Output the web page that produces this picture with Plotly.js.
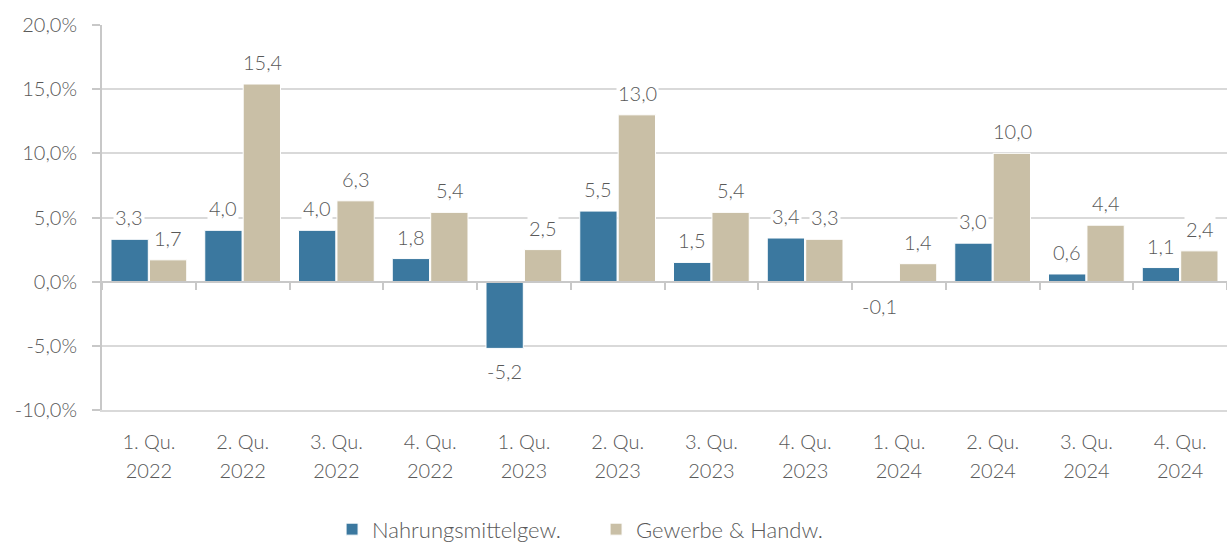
<!DOCTYPE html>
<html>
<head>
<meta charset="utf-8">
<script src="https://cdn.plot.ly/plotly-3.0.1.min.js"></script>
<style>html,body{margin:0;padding:0;background:#fff;}#chart{width:1227px;height:545px;}</style>
</head>
<body>
<div id="chart"></div>
<script>
const quarters = ["1. Qu.","2. Qu.","3. Qu.","4. Qu.","1. Qu.","2. Qu.","3. Qu.","4. Qu.","1. Qu.","2. Qu.","3. Qu.","4. Qu."];
const years = ["2022","2022","2022","2022","2023","2023","2023","2023","2024","2024","2024","2024"];
const categories = quarters.map((q, i) => q + " " + years[i]);
const nahrung = [3.3, 4.0, 4.0, 1.8, -5.2, 5.5, 1.5, 3.4, -0.1, 3.0, 0.6, 1.1];
const gewerbe = [1.7, 15.4, 6.3, 5.4, 2.5, 13.0, 5.4, 3.3, 1.4, 10.0, 4.4, 2.4];
const seriesNames = ["Nahrungsmittelgew.", "Gewerbe & Handw."];
const yTickVals = [-10, -5, 0, 5, 10, 15, 20];

const FONT = "Lato, 'Open Sans', sans-serif";
const GREY = "#595959";
const W = 300;
const fmt = v => v.toFixed(1).replace('.', ',');
const yTickText = yTickVals.map(v => fmt(v) + '%');

const traces = [
  {type: 'bar', name: seriesNames[0], x: categories, y: nahrung,
   marker: {color: '#3b789f', line: {color: '#ffffff', width: 1}}, hoverinfo: 'skip'},
  {type: 'bar', name: seriesNames[1], x: categories, y: gewerbe,
   marker: {color: '#c9bfa6', line: {color: '#ffffff', width: 1}}, hoverinfo: 'skip'},
  {type: 'scatter', mode: 'markers', x: categories, y: nahrung, xaxis: 'x2', yaxis: 'y',
   marker: {opacity: 0}, showlegend: false, hoverinfo: 'skip'},
  {type: 'scatter', mode: 'markers', x: categories, y: nahrung, xaxis: 'x3', yaxis: 'y',
   marker: {opacity: 0}, showlegend: false, hoverinfo: 'skip'}
];

const annotations = [];
[nahrung, gewerbe].forEach((arr, s) => {
  arr.forEach((v, i) => {
    annotations.push({
      x: categories[i], y: v, xref: 'x', yref: 'y',
      text: fmt(v), showarrow: false,
      xshift: s === 0 ? -19.5 : 19.5,
      yanchor: v >= 0 ? 'bottom' : 'top',
      yshift: v >= 0 ? 8 : -9,
      bgcolor: '#ffffff', borderpad: 1,
      font: {family: FONT, size: 20, color: GREY, weight: W}
    });
  });
});

const layout = {
  width: 1227, height: 545,
  margin: {l: 102, r: 0, t: 25, b: 135, autoexpand: false},
  paper_bgcolor: '#fff', plot_bgcolor: '#fff',
  separators: ',.',
  barmode: 'group', bargap: 0.18, bargroupgap: 0.03,
  font: {family: FONT, size: 20, color: GREY, weight: W},
  xaxis: {
    type: 'category', categoryarray: categories, range: [-0.5, 11.5],
    tickvals: categories, ticktext: quarters,
    showline: true, linecolor: '#d9d9d9', linewidth: 2, ticks: '',
    showgrid: false, zeroline: false, ticklabelstandoff: 13, automargin: false,
    tickfont: {family: FONT, size: 20, color: GREY, weight: W}
  },
  xaxis3: {
    type: 'category', categoryarray: categories, range: [-0.5, 11.5],
    overlaying: 'x', anchor: 'free', position: 0, side: 'bottom',
    tickvals: categories, ticktext: years, automargin: false,
    showline: false, ticks: '', showgrid: false, zeroline: false,
    ticklabelstandoff: 47,
    tickfont: {family: FONT, size: 20, color: GREY, weight: W}
  },
  xaxis2: {
    type: 'category', categoryarray: categories, range: [-0.5, 11.5],
    overlaying: 'x', anchor: 'free', position: 1/3, side: 'bottom',
    showline: true, linecolor: '#c8c8c8', linewidth: 2, automargin: false,
    ticks: 'outside', tickson: 'boundaries', ticklen: 7, tickcolor: '#c8c8c8', tickwidth: 2,
    showticklabels: false, showgrid: false, zeroline: false
  },
  yaxis: {
    range: [-10, 20], tickvals: yTickVals, ticktext: yTickText,
    showgrid: true, gridcolor: '#d9d9d9', gridwidth: 2,
    zeroline: false, automargin: false,
    showline: true, linecolor: '#c8c8c8', linewidth: 2,
    ticks: 'outside', ticklen: 8, tickcolor: '#c8c8c8', tickwidth: 2,
    ticklabelstandoff: 11,
    tickfont: {family: FONT, size: 20, color: GREY, weight: W}
  },
  legend: {
    orientation: 'h', x: 0.2045, xanchor: 'left', y: -0.31, yanchor: 'middle',
    entrywidth: 219, entrywidthmode: 'pixels',
    font: {family: FONT, size: 22, color: GREY, weight: W},
    itemwidth: 30
  },
  annotations: annotations,
  showlegend: true
};

Plotly.newPlot('chart', traces, layout, {staticPlot: true, displayModeBar: false});
</script>
</body>
</html>
